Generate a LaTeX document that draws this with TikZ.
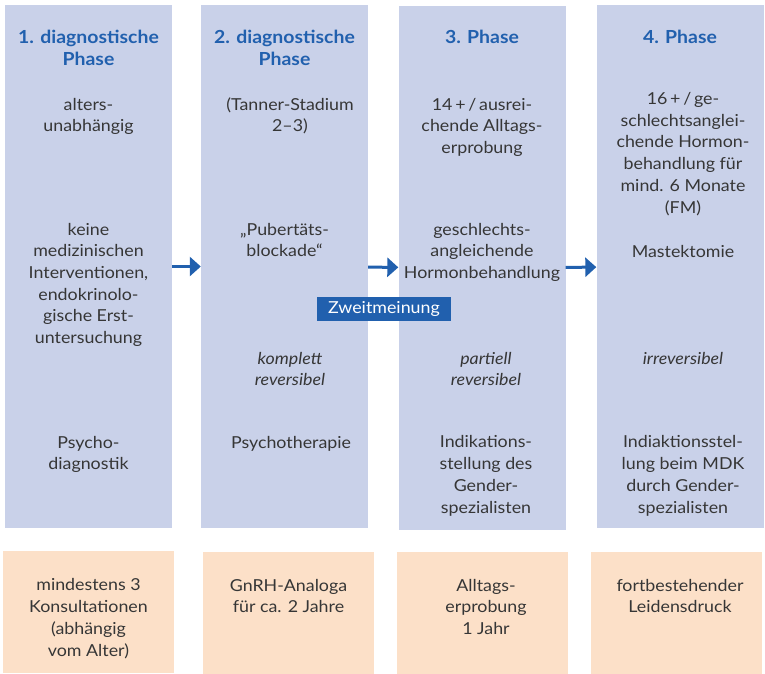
\documentclass[tikz,border=0pt]{standalone}
\usepackage{fontspec}
\setmainfont{Lato}[FakeStretch=1.08]
\usetikzlibrary{arrows.meta}
\definecolor{phaseblue}{HTML}{C9D1E9}
\definecolor{resorange}{HTML}{FCE0C8}
\definecolor{titleblue}{HTML}{2160AE}
\definecolor{textgray}{HTML}{363636}
\begin{document}
\begin{tikzpicture}[x=1pt, y=-1pt,
        phase/.style={rectangle, fill=phaseblue, inner sep=0pt, minimum width=167pt, minimum height=523pt},
        result/.style={rectangle, fill=resorange, inner sep=0pt, minimum width=171pt, minimum height=122pt},
        title/.style={anchor=base, align=center, inner sep=0pt, text=titleblue, font=\fontsize{18}{21.7}\selectfont\bfseries},
        txt/.style={anchor=base, align=center, inner sep=0pt, text=textgray, font=\fontsize{16.5}{21.7}\selectfont},
        slanted/.style={txt, font=\fontsize{16.5}{21.7}\selectfont\itshape},
        opinion/.style={rectangle, fill=titleblue, text=white, inner sep=0pt, minimum width=134pt, minimum height=24pt, font=\fontsize{16.5}{21.7}\selectfont},
        arrow/.style={-{Triangle[length=11pt,width=19pt]}, line width=3pt, draw=titleblue}
    ]
    \useasboundingbox (0,0) rectangle (765,673);

    % phases
    \node[phase] (p1) at (88.5,266.5) {};
    \node[phase] (p2) at (284.5,266.5) {};
    \node[phase, minimum height=524pt] (p3) at (482,268) {};
    \node[phase] (p4) at (680,266.5) {};

    % results
    \node[result] (r1) at (88.5,612) {};
    \node[result] (r2) at (288.5,612.5) {};
    \node[result] (r3) at (482.5,612.5) {};
    \node[result] (r4) at (676,612.5) {};

    \draw[arrow] (p1) -- (p2);
    \draw[arrow] (p2) -- (p3);
    \draw[arrow] (p3) -- (p4);

    % column 1 (base = last line)
    \node[title] (h1) at (88.5,65) {1. diagnostische\\Phase};
    \node[txt] (a1) at (88.5,131.7) {alters-\\unabhängig};
    \node[txt] (b1) at (88.5,343.5) {keine\\medizinischen\\Interventionen,\\endokrinolo-\\gische Erst-\\untersuchung};
    \node[txt] (d1) at (88.5,469.7) {Psycho-\\diagnostik};
    \node[txt] (e1) at (88.5,656) {mindestens 3\\Konsultationen\\(abhängig\\vom Alter)};

    % column 2
    \node[title] (h2) at (284.5,65) {2. diagnostische\\Phase};
    \node[txt] (a2) at (290,131.7) {(Tanner-Stadium\\2--3)};
    \node[txt] (b2) at (284.5,256.7) {„Pubertäts-\\blockade“};
    \node[slanted] (c2) at (290,385.7) {komplett\\reversibel};
    \node[txt] (d2) at (291,448) {Psychotherapie};
    \node[txt] (e2) at (288.5,612.7) {GnRH-Analoga\\für ca. 2 Jahre};

    % column 3
    \node[title] (h3) at (482,43) {3. Phase};
    \node[txt] (a3) at (482,153.4) {14\,+\,/\,ausrei-\\chende Alltags-\\erprobung};
    \node[txt] (b3) at (482,278.4) {geschlechts-\\angleichende\\Hormonbehandlung};
    \node[slanted] (c3) at (486,385.7) {partiell\\reversibel};
    \node[txt] (d3) at (486,513) {Indikations-\\stellung des\\Gender-\\spezialisten};
    \node[txt] (e3) at (486,634.4) {Alltags-\\erprobung\\1 Jahr};

    % column 4
    \node[title] (h4) at (680,43) {4. Phase};
    \node[txt] (a4) at (683,213) {16\,+\,/\,ge-\\schlechtsanglei-\\chende Hormon-\\behandlung für\\mind. 6 Monate\\(FM)};
    \node[txt] (b4) at (683,257) {Mastektomie};
    \node[slanted] (c4) at (683,364) {irreversibel};
    \node[txt] (d4) at (683,513) {Indiaktionsstel-\\lung beim MDK\\durch Gender-\\spezialisten};
    \node[txt] (e4) at (680,612.7) {fortbestehender\\Leidensdruck};

    \node[opinion] (zm) at (384,309) {Zweitmeinung};
\end{tikzpicture}
\end{document}
